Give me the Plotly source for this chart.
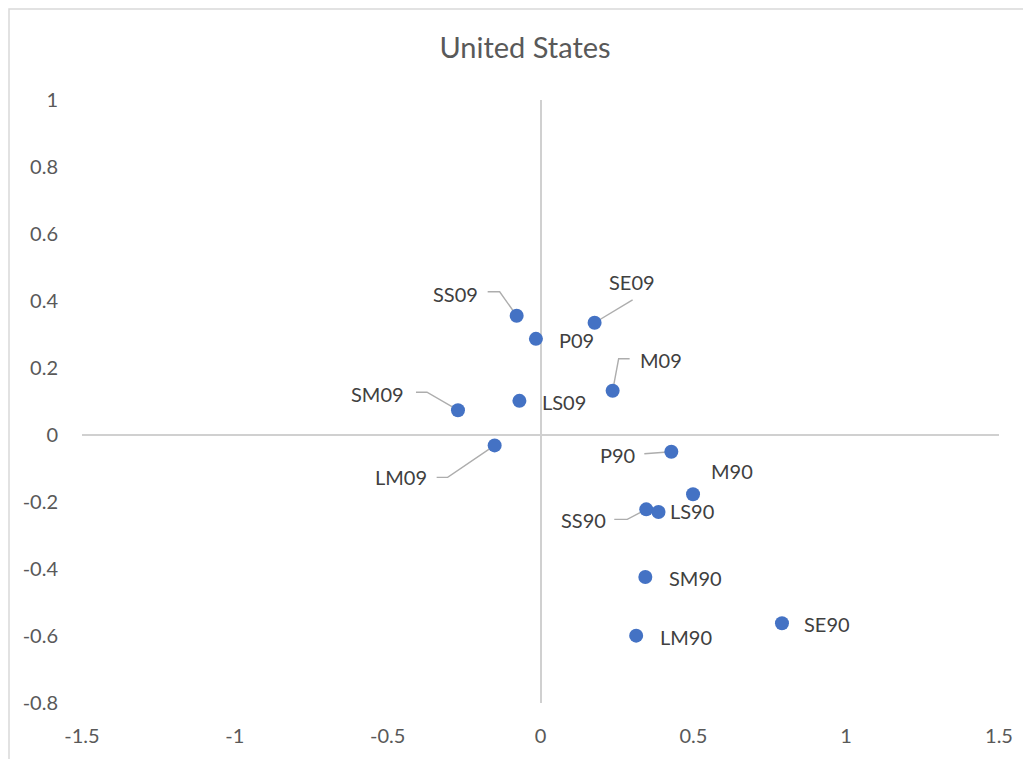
import plotly.graph_objects as go

# point labels and coordinates
labels = ["SS09", "P09", "SE09", "M09", "LS09", "SM09", "LM09",
          "P90", "M90", "SS90", "LS90", "SM90", "LM90", "SE90"]
x_vals = [-0.078, -0.015, 0.177, 0.236, -0.069, -0.270, -0.150,
          0.428, 0.499, 0.346, 0.386, 0.343, 0.313, 0.790]
y_vals = [0.356, 0.287, 0.335, 0.132, 0.102, 0.074, -0.031,
          -0.050, -0.177, -0.222, -0.230, -0.424, -0.599, -0.562]

x_ticks = [-1.5, -1, -0.5, 0, 0.5, 1, 1.5]
x_ticktext = ["-1.5", "-1", "-0.5", "0", "0.5", "1", "1.5"]
y_ticks = [1, 0.8, 0.6, 0.4, 0.2, 0, -0.2, -0.4, -0.6, -0.8]
y_ticktext = ["1", "0.8", "0.6", "0.4", "0.2", "0", "-0.2", "-0.4", "-0.6", "-0.8"]

# label offsets from the point in pixels (dx right, dy down)
label_dx = [-61, 41, 37, 48, 45, -80, -94, -54, 39, -63, 34, 50, 50, 45]
label_dy = [-22, 1, -41, -31, 1, -16, 32, 3, -23, 11, -1, 1, 1, 1]

# leader line elbows (pixel offsets from point)
leaders = {
    "SS09": [(-29, -24), (-17, -24)],
    "SE09": [(38, -23)],
    "M09": [(17, -32), (6, -32)],
    "SM09": [(-42, -18), (-31, -18)],
    "LM09": [(-58, 32), (-47, 32)],
    "P90": [(-27, 2), (-17, 1)],
    "SS90": [(-32, 10), (-19, 10)],
}

# page body has an 8px margin, so the figure is placed from (8, 8)
OFF = 8
W, H = 1031 - OFF, 759 - OFF
L, R, T, B = 82 - OFF, 999 - OFF, 100 - OFF, 703 - OFF
px_x = (R - L) / (x_ticks[-1] - x_ticks[0])
px_y = (B - T) / (y_ticks[0] - y_ticks[-1])

lx, ly = [], []
for i, name in enumerate(labels):
    if name not in leaders:
        continue
    for dx, dy in leaders[name]:
        lx.append(x_vals[i] + dx / px_x)
        ly.append(y_vals[i] - dy / px_y)
    lx += [x_vals[i], None]
    ly += [y_vals[i], None]

fig = go.Figure()
fig.add_trace(go.Scatter(x=lx, y=ly, mode="lines",
                         line=dict(color="#adadad", width=1.4),
                         hoverinfo="skip", showlegend=False))
fig.add_trace(go.Scatter(x=x_vals, y=y_vals, mode="markers", text=labels,
                         marker=dict(color="#4472C4", size=14),
                         showlegend=False))

for i, name in enumerate(labels):
    fig.add_annotation(x=x_vals[i], y=y_vals[i], text=name, showarrow=False,
                       xshift=label_dx[i], yshift=-label_dy[i],
                       font=dict(family="Lato", size=20, color="#404040"))

# chart border (only top and left edges fall inside the picture)
fig.add_shape(type="rect", xref="paper", yref="paper",
              x0=(1 - L) / (R - L), x1=(W + 10 - L) / (R - L),
              y0=(B - (H + 10)) / (B - T), y1=(B - 1) / (B - T),
              line=dict(color="#d9d9d9", width=1.5), layer="below")

fig.update_layout(
    width=W, height=H,
    margin=dict(l=L, r=W - R, t=T, b=H - B),
    paper_bgcolor="white", plot_bgcolor="white",
    title=dict(text="United States", x=(525 - OFF) / W, xanchor="center",
               y=1 - (48 - OFF) / H, yanchor="middle",
               font=dict(family="Lato", size=29, color="#595959")),
    font=dict(family="Lato", size=20, color="#595959"),
)
fig.update_xaxes(range=[x_ticks[0], x_ticks[-1]], tickvals=x_ticks,
                 ticktext=x_ticktext,
                 showgrid=False, showline=False, zeroline=True,
                 zerolinecolor="#d0d0d0", zerolinewidth=1.5,
                 ticklabelstandoff=19)
fig.update_yaxes(range=[y_ticks[-1], y_ticks[0]], tickvals=y_ticks,
                 ticktext=y_ticktext,
                 showgrid=False, showline=False, zeroline=True,
                 zerolinecolor="#d0d0d0", zerolinewidth=1.5,
                 ticklabelstandoff=23)

fig.write_html("out.html")
